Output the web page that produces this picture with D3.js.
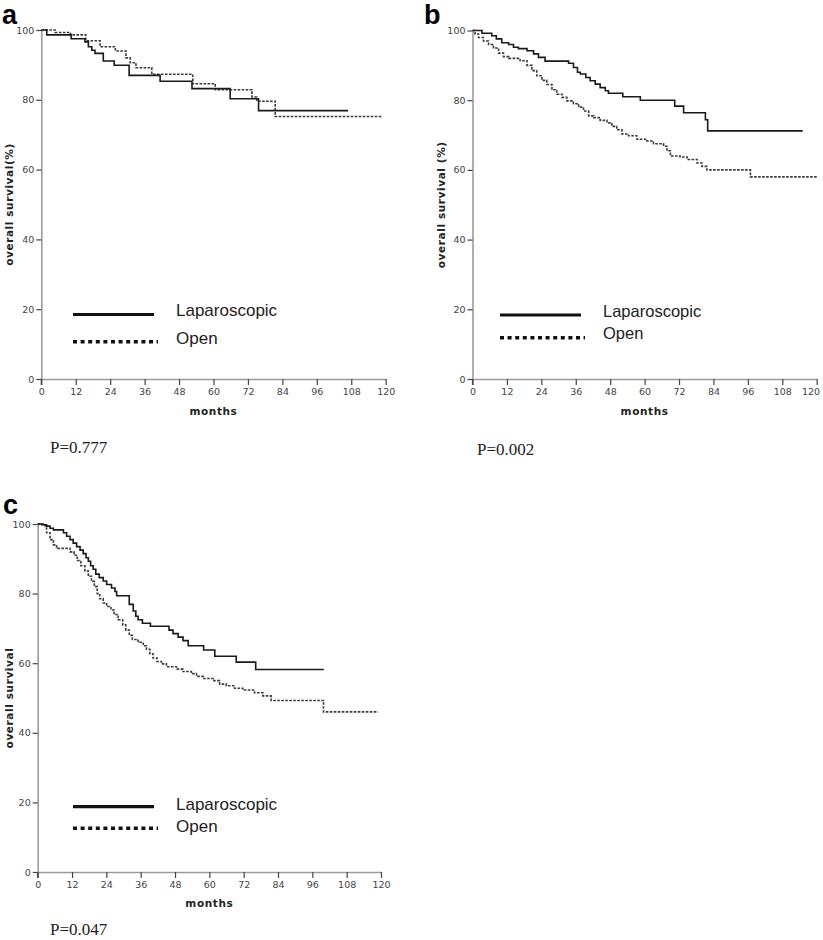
<!DOCTYPE html>
<html>
<head>
<meta charset="utf-8">
<script src="https://cdn.jsdelivr.net/npm/d3@7/dist/d3.min.js"></script>
<style>
  html, body { margin: 0; padding: 0; background: #fff; }
  svg { display: block; }
</style>
</head>
<body>
<svg id="chart" width="823" height="940"></svg>
<script>
// ---------------- DATA ----------------
const monthTicks = [0, 12, 24, 36, 48, 60, 72, 84, 96, 108, 120];
const survivalTicks = [0, 20, 40, 60, 80, 100];
const seriesNames = ["Laparoscopic", "Open"];
const panelLetters = ["a", "b", "c"];
const pValues = ["P=0.777", "P=0.002", "P=0.047"];
const yTitles = ["overall survival(%)", "overall survival (%)", "overall survival"];

// Panel a
const aLapMonths = [0, 1.9, 10.4, 15.2, 16.4, 17.6, 18.7, 21.6, 25.4, 30.6, 41.4, 52.5, 65.8, 75.7, 106.9];
const aLapSurv   = [100, 98.6, 97.5, 96.6, 95.2, 94.2, 93.3, 91.1, 89.9, 87.0, 85.3, 83.2, 80.3, 76.9, 76.9];
const aOpenMonths = [0, 4.8, 10.2, 15.5, 20.5, 25.8, 29.5, 31.0, 33.0, 38.5, 52.8, 60.6, 73.4, 75.1, 81.5, 118.5];
const aOpenSurv   = [100, 99.3, 98.6, 96.9, 95.2, 94.0, 92.0, 90.6, 89.2, 87.3, 84.6, 82.9, 80.8, 79.6, 75.2, 75.2];

// Panel b
const bLapMonths = [0, 3.3, 6.7, 8.3, 10.2, 12.6, 14.3, 16.0, 19.0, 21.3, 23.0, 25.3, 33.5, 35.2, 36.6, 37.6, 39.5, 41.0, 42.8, 44.5, 46.3, 47.4, 52.4, 58.5, 70.5, 73.6, 81.2, 82.0, 115.1];
const bLapSurv   = [100, 99.2, 98.5, 97.6, 96.5, 96.0, 95.2, 94.8, 94.2, 93.3, 92.3, 91.2, 90.6, 89.4, 88.0, 87.5, 86.5, 85.6, 84.6, 83.6, 82.7, 82.0, 81.0, 80.0, 78.3, 76.4, 74.4, 71.2, 71.2];
const bOpenMonths = [0, 0.9, 2.1, 3.8, 5.6, 7.3, 9.1, 10.8, 12.6, 16.6, 19.0, 20.7, 22.4, 24.2, 25.9, 27.7, 29.4, 31.2, 32.9, 35.2, 37.0, 38.7, 40.5, 42.2, 44.5, 46.9, 48.6, 50.3, 52.1, 54.4, 57.3, 60.8, 63.1, 66.6, 67.8, 69.0, 72.4, 74.8, 78.3, 80.0, 81.7, 96.9, 120];
const bOpenSurv   = [100, 99.0, 98.0, 97.0, 96.0, 95.0, 93.5, 92.5, 92.0, 91.3, 90.0, 88.5, 87.0, 85.7, 84.5, 83.0, 81.7, 80.8, 79.8, 79.0, 78.0, 76.9, 75.5, 75.0, 74.2, 73.5, 72.5, 71.5, 70.3, 69.8, 68.8, 68.3, 67.5, 66.8, 65.5, 64.0, 63.7, 63.0, 62.0, 61.0, 60.0, 58.0, 58.0];

// Panel c
const cLapMonths = [0, 1.4, 3.1, 4.3, 5.5, 9.0, 10.1, 11.3, 12.4, 13.6, 14.8, 15.9, 16.9, 17.7, 18.5, 19.4, 20.3, 21.5, 22.9, 24.1, 25.8, 27.0, 27.6, 32.0, 33.4, 34.3, 35.1, 36.6, 39.4, 45.9, 47.3, 49.1, 50.8, 52.6, 58.0, 61.9, 69.4, 76.2, 100.0];
const cLapSurv   = [100, 99.8, 99.4, 98.8, 98.3, 97.5, 96.5, 95.5, 94.5, 93.5, 92.5, 91.5, 90.3, 89.3, 88.0, 87.0, 85.6, 84.6, 83.6, 82.6, 81.6, 80.6, 79.4, 76.9, 75.0, 73.5, 72.5, 71.5, 70.6, 69.5, 68.5, 67.5, 66.5, 65.0, 63.8, 62.0, 60.3, 58.2, 58.2];
const cOpenMonths = [0, 2.0, 3.1, 4.3, 5.5, 6.6, 11.3, 12.7, 13.8, 15.1, 16.5, 17.7, 18.8, 19.8, 20.8, 21.7, 22.9, 24.1, 25.6, 26.7, 28.1, 29.7, 30.8, 32.0, 33.1, 35.1, 36.9, 38.0, 39.2, 40.3, 41.7, 43.3, 45.0, 48.5, 50.8, 53.7, 55.5, 57.8, 61.3, 63.6, 65.9, 68.8, 71.7, 75.8, 78.7, 81.6, 99.9, 119];
const cOpenSurv   = [100, 99.5, 97.5, 95.5, 94.0, 93.0, 92.0, 91.0, 89.5, 88.0, 86.5, 85.0, 83.5, 82.0, 80.0, 78.5, 77.3, 76.3, 75.3, 74.0, 72.5, 71.0, 69.5, 68.0, 66.8, 66.0, 65.0, 64.0, 62.7, 61.5, 60.5, 59.8, 59.0, 58.3, 57.6, 57.0, 56.2, 55.6, 55.0, 54.0, 53.5, 52.8, 52.3, 51.5, 50.6, 49.3, 46.0, 46.0];

// ---------------- LAYOUT ----------------
const panels = [
  { lap: [aLapMonths, aLapSurv], open: [aOpenMonths, aOpenSurv],
    x0: 41.3, x1: 385.7, yTop: 30, yBot: 379,
    letter: [2, 24], p: [50, 453], yTitleX: 9,
    legend: { x0: 73, x1: 154, x1d: 158, yS: 314.5, yD: 341.7, tx: 176, tbS: 316, tbD: 344, fs: 17 },
    xTitleY: 415 },
  { lap: [bLapMonths, bLapSurv], open: [bOpenMonths, bOpenSurv],
    x0: 472.5, x1: 816.7, yTop: 30.5, yBot: 379,
    letter: [424, 24], p: [477, 455], yTitleX: 441,
    legend: { x0: 500, x1: 581, x1d: 585, yS: 315, yD: 337.7, tx: 603, tbS: 317, tbD: 339, fs: 16.5 },
    xTitleY: 415 },
  { lap: [cLapMonths, cLapSurv], open: [cOpenMonths, cOpenSurv],
    x0: 37.7, x1: 381, yTop: 524, yBot: 872,
    letter: [3, 514], p: [50, 935], yTitleX: 9,
    legend: { x0: 73, x1: 154, x1d: 158, yS: 806.7, yD: 828.3, tx: 176, tbS: 810, tbD: 832, fs: 17 },
    xTitleY: 907 }
];

const svg = d3.select("#chart");

panels.forEach((P, i) => {
  const x = d3.scaleLinear().domain([0, 120]).range([P.x0, P.x1]);
  const y = d3.scaleLinear().domain([0, 100]).range([P.yBot, P.yTop]);
  const g = svg.append("g");

  // x axis
  const xAx = g.append("g")
    .attr("transform", `translate(0,${P.yBot})`)
    .call(d3.axisBottom(x).tickValues(monthTicks).tickSize(6).tickSizeOuter(0).tickPadding(3));
  // y axis
  const yAx = g.append("g")
    .attr("transform", `translate(${P.x0},0)`)
    .call(d3.axisLeft(y).tickValues(survivalTicks).tickSize(5).tickSizeOuter(0).tickPadding(2));

  [xAx, yAx].forEach(ax => {
    ax.select(".domain").attr("stroke", "#9a9a9a").attr("stroke-width", 1.6);
    ax.selectAll(".tick line").attr("stroke", "#444").attr("stroke-width", 1.2);
    ax.selectAll(".tick text").attr("fill", "#444")
      .attr("font-family", "DejaVu Sans, sans-serif").attr("font-size", 9.5);
  });
  // keep the last x tick label of the right-hand panel inside the page
  if (i === 1) {
    xAx.selectAll(".tick text").filter(d => d === 120)
      .attr("text-anchor", "end").attr("dx", "0.3em");
  }
  g.append("line").attr("x1", P.x0).attr("x2", P.x0)
    .attr("y1", P.yBot).attr("y2", P.yBot + 6)
    .attr("stroke", "#444").attr("stroke-width", 1.2);

  // curves
  const line = d3.line().x(d => x(d[0])).y(d => y(d[1])).curve(d3.curveStepAfter);
  const lapData = d3.zip(P.lap[0], P.lap[1]);
  const openData = d3.zip(P.open[0], P.open[1]);
  g.append("path").datum(openData).attr("d", line)
    .attr("fill", "none").attr("stroke", "#3a3a3a").attr("stroke-width", 1.6)
    .attr("stroke-dasharray", "2.6,1.4");
  g.append("path").datum(lapData).attr("d", line)
    .attr("fill", "none").attr("stroke", "#1a1a1a").attr("stroke-width", 1.6);

  // axis titles
  g.append("text").attr("x", (P.x0 + P.x1) / 2).attr("y", P.xTitleY)
    .attr("text-anchor", "middle").attr("font-family", "DejaVu Sans, sans-serif")
    .attr("font-weight", "bold").attr("font-size", 10.5).attr("fill", "#222")
    .attr("letter-spacing", 0.6).text("months");
  g.append("text")
    .attr("transform", `translate(${P.yTitleX + 4},${(P.yTop + P.yBot) / 2}) rotate(-90)`)
    .attr("text-anchor", "middle").attr("font-family", "DejaVu Sans, sans-serif")
    .attr("font-weight", "bold").attr("font-size", 10.5).attr("fill", "#222")
    .attr("letter-spacing", 0.6).text(yTitles[i]);

  // legend
  const L = P.legend;
  g.append("line").attr("x1", L.x0).attr("x2", L.x1).attr("y1", L.yS).attr("y2", L.yS)
    .attr("stroke", "#111").attr("stroke-width", 3.2);
  g.append("line").attr("x1", L.x0).attr("x2", L.x1d).attr("y1", L.yD).attr("y2", L.yD)
    .attr("stroke", "#111").attr("stroke-width", 3.4).attr("stroke-dasharray", "4,3.6");
  g.append("text").attr("x", L.tx).attr("y", L.tbS)
    .attr("font-family", "Liberation Sans, Arial, sans-serif").attr("font-size", L.fs)
    .attr("fill", "#222").text(seriesNames[0]);
  g.append("text").attr("x", L.tx).attr("y", L.tbD)
    .attr("font-family", "Liberation Sans, Arial, sans-serif").attr("font-size", L.fs)
    .attr("fill", "#222").text(seriesNames[1]);

  // panel letter
  svg.append("text").attr("x", P.letter[0]).attr("y", P.letter[1])
    .attr("font-family", "Liberation Sans, Arial, sans-serif").attr("font-weight", "bold")
    .attr("font-size", 27).attr("fill", "#000").text(panelLetters[i]);

  // P value
  svg.append("text").attr("x", P.p[0]).attr("y", P.p[1])
    .attr("font-family", "Liberation Serif, Times New Roman, serif").attr("font-size", 17)
    .attr("fill", "#222").text(pValues[i]);
});
</script>
</body>
</html>
